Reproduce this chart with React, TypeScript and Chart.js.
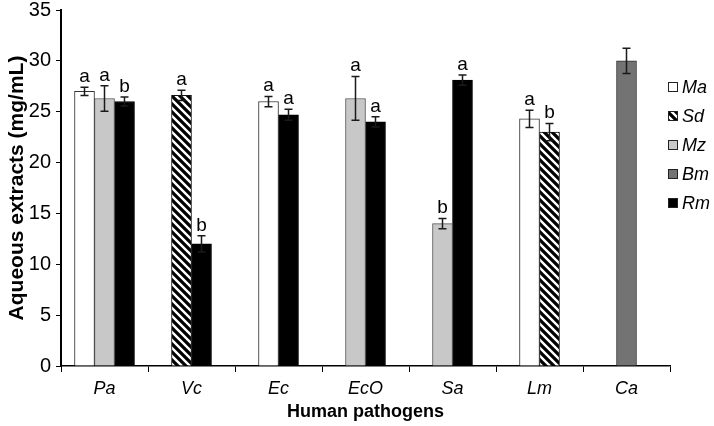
import React, { useEffect, useRef } from 'react';
import { Chart, registerables } from 'chart.js';

Chart.register(...registerables);

const categories = ['Pa', 'Vc', 'Ec', 'EcO', 'Sa', 'Lm', 'Ca'];
const seriesNames = ['Ma', 'Sd', 'Mz', 'Bm', 'Rm'];

const maValues = [27.0, null, 26.0, null, null, 24.3, null];
const maErrors = [0.4, null, 0.5, null, null, 0.85, null];
const maLetters = ['a', '', 'a', '', '', 'a', ''];

const sdValues = [null, 26.6, null, null, null, 23.0, null];
const sdErrors = [null, 0.5, null, null, null, 0.85, null];
const sdLetters = ['', 'a', '', '', '', 'b', ''];

const mzValues = [26.3, null, null, 26.3, 14.0, null, null];
const mzErrors = [1.25, null, null, 2.15, 0.5, null, null];
const mzLetters = ['a', '', '', 'a', 'b', '', ''];

const bmValues = [null, null, null, null, null, null, 30.0];
const bmErrors = [null, null, null, null, null, null, 1.25];
const bmLetters = ['', '', '', '', '', '', ''];

const rmValues = [26.0, 12.0, 24.7, 24.0, 28.1, null, null];
const rmErrors = [0.45, 0.8, 0.55, 0.5, 0.5, null, null];
const rmLetters = ['b', 'b', 'a', 'a', 'a', '', ''];

const yTicks = [0, 5, 10, 15, 20, 25, 30, 35];

const allValues = [maValues, sdValues, mzValues, bmValues, rmValues];
const allErrors = [maErrors, sdErrors, mzErrors, bmErrors, rmErrors];
const allLetters = [maLetters, sdLetters, mzLetters, bmLetters, rmLetters];

const FONT = '"Liberation Sans", Arial, Helvetica, sans-serif';

function makeHatch(): CanvasPattern | string {
  const c = document.createElement('canvas');
  c.width = 8;
  c.height = 8;
  const g = c.getContext('2d');
  if (!g) return '#000';
  g.fillStyle = '#000';
  g.fillRect(0, 0, 8, 8);
  g.strokeStyle = '#fff';
  g.lineWidth = 2.4;
  g.beginPath();
  g.moveTo(-2, -2); g.lineTo(10, 10);
  g.moveTo(-10, -2); g.lineTo(2, 10);
  g.moveTo(6, -2); g.lineTo(18, 10);
  g.stroke();
  return g.createPattern(c, 'repeat') || '#000';
}

const errorPlugin = {
  id: 'errorBars',
  afterDatasetsDraw(chart: any) {
    const ctx = chart.ctx;
    const yScale = chart.scales.y;
    ctx.save();
    allValues.forEach((vals, i) => {
      const meta = chart.getDatasetMeta(i);
      vals.forEach((v, j) => {
        if (v == null) return;
        const e = allErrors[i][j] ?? 0;
        const bar = meta.data[j];
        if (!bar) return;
        const x = bar.x;
        const yTop = yScale.getPixelForValue(v + e);
        const yBot = yScale.getPixelForValue(v - e);
        ctx.strokeStyle = '#1a1a1a';
        ctx.lineWidth = 1.5;
        ctx.beginPath();
        ctx.moveTo(x, yTop); ctx.lineTo(x, yBot);
        ctx.moveTo(x - 4, yTop); ctx.lineTo(x + 4, yTop);
        ctx.moveTo(x - 4, yBot); ctx.lineTo(x + 4, yBot);
        ctx.stroke();
        const letter = allLetters[i][j];
        if (letter) {
          ctx.fillStyle = '#000';
          ctx.font = `19px ${FONT}`;
          ctx.textAlign = 'center';
          ctx.textBaseline = 'bottom';
          ctx.fillText(letter, x, yTop - 1);
        }
      });
    });
    ctx.restore();
  },
};

const legendPlugin = {
  id: 'sideLegend',
  afterDraw(chart: any) {
    const ctx = chart.ctx;
    ctx.save();
    chart.data.datasets.forEach((ds: any, i: number) => {
      const y = 87 + i * 29;
      ctx.fillStyle = ds.backgroundColor;
      ctx.fillRect(668, y - 5, 10, 10);
      ctx.strokeStyle = '#222';
      ctx.lineWidth = 1;
      ctx.strokeRect(668.5, y - 4.5, 9, 9);
      ctx.fillStyle = '#000';
      ctx.font = `italic 18px ${FONT}`;
      ctx.textAlign = 'left';
      ctx.textBaseline = 'middle';
      ctx.fillText(ds.label, 682, y + 1);
    });
    ctx.restore();
  },
};

export default function App() {
  const ref = useRef<HTMLCanvasElement>(null);
  useEffect(() => {
    const canvas = ref.current;
    if (!canvas) return;
    Chart.defaults.font.family = FONT;
    const hatch = makeHatch();
    const chart = new Chart(canvas, {
      type: 'bar',
      data: {
        labels: categories,
        datasets: [
          { label: seriesNames[0], data: maValues, backgroundColor: '#ffffff', borderColor: '#333333', borderWidth: 1 },
          { label: seriesNames[1], data: sdValues, backgroundColor: hatch as any, borderColor: '#111111', borderWidth: 1 },
          { label: seriesNames[2], data: mzValues, backgroundColor: '#c8c8c8', borderColor: '#555555', borderWidth: 1 },
          { label: seriesNames[3], data: bmValues, backgroundColor: '#737373', borderColor: '#333333', borderWidth: 1 },
          { label: seriesNames[4], data: rmValues, backgroundColor: '#000000', borderColor: '#000000', borderWidth: 1 },
        ] as any,
      },
      options: {
        responsive: false,
        animation: false,
        layout: { padding: { left: 0, right: 44, top: 10, bottom: 0 } },
        datasets: { bar: { barThickness: 20, skipNull: true } } as any,
        plugins: { legend: { display: false }, tooltip: { enabled: false } },
        scales: {
          x: {
            grid: { display: true, drawOnChartArea: false, drawTicks: true, tickLength: 6, color: '#000', offset: true },
            border: { display: true, color: '#000', width: 1.5 },
            ticks: { color: '#000', font: { size: 18, style: 'italic' }, padding: 6 },
            title: { display: true, text: 'Human pathogens', color: '#000', font: { size: 18, weight: 'bold' }, padding: { top: 0, bottom: 3 } },
            afterFit: (s: any) => { s.height = 60; s.paddingLeft = 0; s.paddingRight = 0; },
          },
          y: {
            min: 0,
            max: 35,
            afterBuildTicks: (s: any) => { s.ticks = yTicks.map((v) => ({ value: v })); },
            ticks: { color: '#000', font: { size: 20 }, padding: 5 },
            grid: { drawOnChartArea: false, drawTicks: true, tickLength: 5, color: '#000' },
            border: { display: true, color: '#000', width: 2 },
            title: { display: true, text: 'Aqueous extracts (mg/mL)', color: '#000', font: { size: 21, weight: 'bold' }, padding: { top: 5, bottom: 0 } },
            afterFit: (s: any) => { s.width = 61; s.paddingTop = 0; s.paddingBottom = 0; },
          },
        } as any,
      },
      plugins: [errorPlugin, legendPlugin],
    });
    return () => chart.destroy();
  }, []);
  return (
    <div style={{ position: 'fixed', left: 0, top: 0, width: 714, height: 426, background: '#fff' }}>
      <canvas ref={ref} width={714} height={426} style={{ display: 'block' }} />
    </div>
  );
}
